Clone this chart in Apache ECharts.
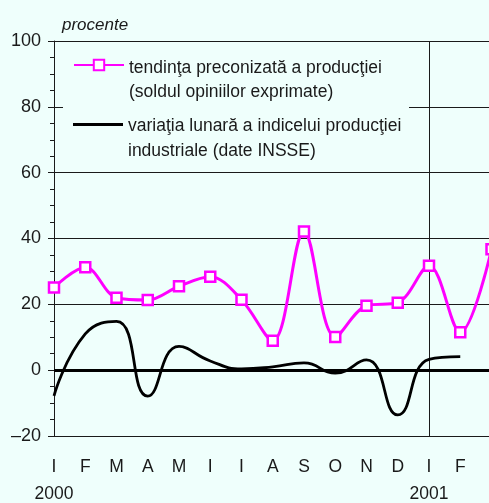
<!DOCTYPE html>
<html>
<head>
<meta charset="utf-8">
<script src="https://cdn.jsdelivr.net/npm/echarts@6/dist/echarts.min.js"></script>
<style>
  html, body { margin: 0; padding: 0; background: #effffc; }
  #chart { width: 489px; height: 503px; }
</style>
</head>
<body>
<div id="chart"></div>
<script>
// months (romanian initials), last one is cut by the right edge
var months = ['I', 'F', 'M', 'A', 'M', 'I', 'I', 'A', 'S', 'O', 'N', 'D', 'I', 'F', 'M'];
var years = ['2000', '', '', '', '', '', '', '', '', '', '', '', '2001', '', ''];

// tendinta preconizata a productiei (sold, %)
var tendinta = [25.1, 31.3, 22.0, 21.3, 25.5, 28.4, 21.4, 8.9, 42.1, 10.1, 19.6, 20.5, 31.7, 11.5, 36.7];
// variatia lunara a indicelui productiei industriale (%)
var variatia = [-7.8, 11.0, 14.8, -7.9, 7.2, 2.8, 0.4, 1.0, 2.2, -0.9, 3.1, -13.6, 3.3, 4.1, null];

var name1 = 'tendinţa preconizată a producţiei';
var name2 = 'variaţia lunară a indicelui producţiei';
var legendLines = {};
legendLines[name1] = ['tendinţa preconizată a producţiei', '(soldul opiniilor exprimate)'];
legendLines[name2] = ['variaţia lunară a indicelui producţiei', 'industriale (date INSSE)'];

var bg = '#effffc';
var ink = '#1a1a1a';
var font = 'Liberation Sans, Arial, sans-serif';

var chart = echarts.init(document.getElementById('chart'));

function legendFor(name, top, lh, emptyLh, extra) {
  var lg = {
    data: [name],
    left: 73,
    top: top,
    padding: 0,
    itemWidth: 50,
    itemHeight: 13,
    itemGap: 0,
    selectedMode: false,
    // a blank first line keeps the icon level with the first text line
    formatter: function (n) {
      var l = legendLines[n];
      return '{e| }\n{t|' + l[0] + '}\n{t|' + l[1] + '}';
    },
    textStyle: {
      color: ink, fontSize: 17.5, fontFamily: font,
      rich: {
        e: { fontSize: 10, lineHeight: emptyLh },
        t: { color: ink, fontSize: 17.5, fontFamily: font, lineHeight: lh }
      }
    }
  };
  for (var k in extra) lg[k] = extra[k];
  return lg;
}

var option = {
  backgroundColor: bg,
  animation: false,
  grid: { left: 54, top: 41, bottom: 67, right: -2.5, outerBoundsMode: 'none' },
  legend: [
    legendFor(name1, 36, 24, 30, {}),
    legendFor(name2, 94.5, 25, 29, { icon: 'rect', itemHeight: 3, itemStyle: { color: '#000000' } })
  ],
  graphic: [{
    type: 'rect',
    left: 63, top: 45, z: 3,
    shape: { width: 346, height: 120 },
    style: { fill: bg }
  }],
  xAxis: {
    type: 'category',
    data: months,
    boundaryGap: false,
    axisLine: { onZero: false, lineStyle: { color: ink, width: 1 } },
    axisTick: { show: false },
    splitLine: {
      show: true,
      interval: function (i) { return i === 12; },
      lineStyle: { color: ink, width: 1 }
    },
    axisLabel: {
      interval: 0,
      margin: 18,
      color: ink,
      fontSize: 17.5,
      fontFamily: font,
      lineHeight: 27,
      formatter: function (v, i) {
        if (i === months.length - 1) return '';
        return years[i] ? v + '\n' + years[i] : v;
      }
    }
  },
  yAxis: {
    type: 'value',
    min: -20,
    max: 100,
    interval: 20,
    name: 'procente',
    nameLocation: 'end',
    nameGap: 7,
    nameTextStyle: { color: ink, fontSize: 17, fontStyle: 'italic', fontFamily: font, align: 'left', padding: [0, 0, 0, 8] },
    axisLine: { show: true, lineStyle: { color: ink, width: 1 } },
    axisTick: { show: true, length: 6, lineStyle: { color: ink } },
    minorTick: { show: true, splitNumber: 4, length: 4, lineStyle: { color: ink } },
    splitLine: { show: true, lineStyle: { color: ink, width: 1 } },
    axisLabel: {
      margin: 13,
      color: ink,
      fontSize: 18,
      fontFamily: font,
      formatter: function (v) { return String(v).replace('-', '\u2013'); }
    }
  },
  series: [
    {
      name: name1,
      type: 'line',
      data: tendinta,
      smooth: 0.35,
      symbol: 'rect',
      symbolSize: 10,
      z: 5,
      itemStyle: { color: '#ffffff', borderColor: '#ff00ff', borderWidth: 2.5 },
      lineStyle: { color: '#ff00ff', width: 3 }
    },
    {
      name: name2,
      type: 'line',
      data: variatia,
      smooth: 0.5,
      symbol: 'none',
      itemStyle: { color: '#000000' },
      lineStyle: { color: '#000000', width: 2.8 },
      markLine: {
        silent: true,
        symbol: 'none',
        label: { show: false },
        lineStyle: { color: '#000000', width: 3, type: 'solid' },
        data: [{ yAxis: 0 }]
      }
    }
  ]
};

chart.setOption(option);
</script>
</body>
</html>
